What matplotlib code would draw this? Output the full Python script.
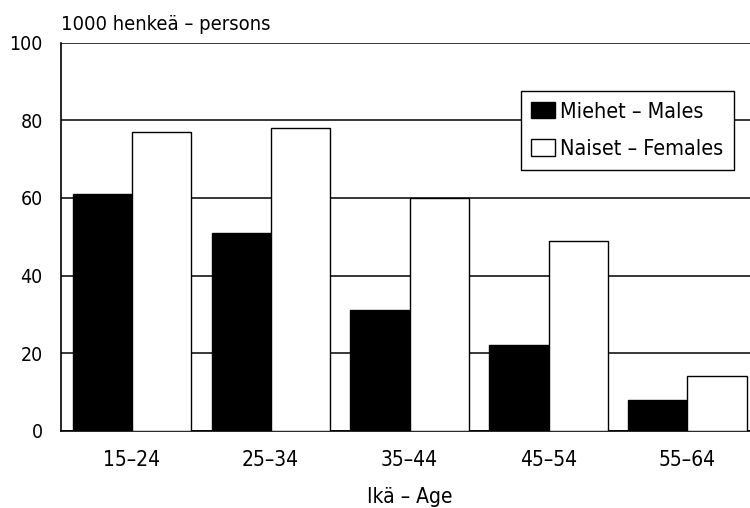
import numpy as np
import matplotlib.pyplot as plt

# Työlliset iän mukaan (1000 henkeä)
ages = ['15\u201324', '25\u201334', '35\u201344', '45\u201354', '55\u201364']
males = [61, 51, 31, 22, 8]
females = [77, 78, 60, 49, 14]
y_ticks = [0, 20, 40, 60, 80, 100]

plt.rcParams['font.family'] = ['DejaVu Sans']
plt.rcParams['font.stretch'] = 'condensed'

fig = plt.figure(figsize=(7.5, 5.08), dpi=100)
ax = fig.add_axes([0.081, 0.152, 0.919, 0.764])

x = np.arange(len(ages))
w = 0.425
ax.bar(x, males, width=-w, align='edge', color='black', edgecolor='black',
       linewidth=1, label='Miehet \u2013 Males', zorder=3)
ax.bar(x, females, width=w, align='edge', color='white', edgecolor='black',
       linewidth=1, label='Naiset \u2013 Females', zorder=3)

ax.set_xlim(-0.51, 4.45)
ax.set_ylim(0, 100)
ax.set_yticks(y_ticks)
ax.set_xticks(x)
ax.set_xticklabels(ages)
ax.tick_params(length=0, colors='black')
ax.tick_params(axis='y', pad=13, labelsize=14)
ax.tick_params(axis='x', pad=14, labelsize=15)

ax.yaxis.grid(True, color='black', linewidth=1.1, zorder=0)
ax.set_axisbelow(True)
for s in ['top', 'right']:
    ax.spines[s].set_visible(False)
ax.spines['left'].set_linewidth(1.2)
ax.spines['bottom'].set_linewidth(1.2)

ax.text(0, 1.022, '1000 henke\u00e4 \u2013 persons', transform=ax.transAxes,
        fontsize=14.5, ha='left', va='bottom')
ax.set_xlabel('Ik\u00e4 \u2013 Age', fontsize=15)
ax.xaxis.set_label_coords(0.506, -0.145)

leg = ax.legend(loc='upper right', bbox_to_anchor=(0.9775, 0.876), fontsize=15.5,
                fancybox=False, framealpha=1, edgecolor='black',
                handlelength=1.1, handleheight=0.8, handletextpad=0.25,
                borderpad=0.5, labelspacing=0.8, borderaxespad=0)
leg.get_frame().set_linewidth(1)

plt.savefig('out.png', dpi=100)
